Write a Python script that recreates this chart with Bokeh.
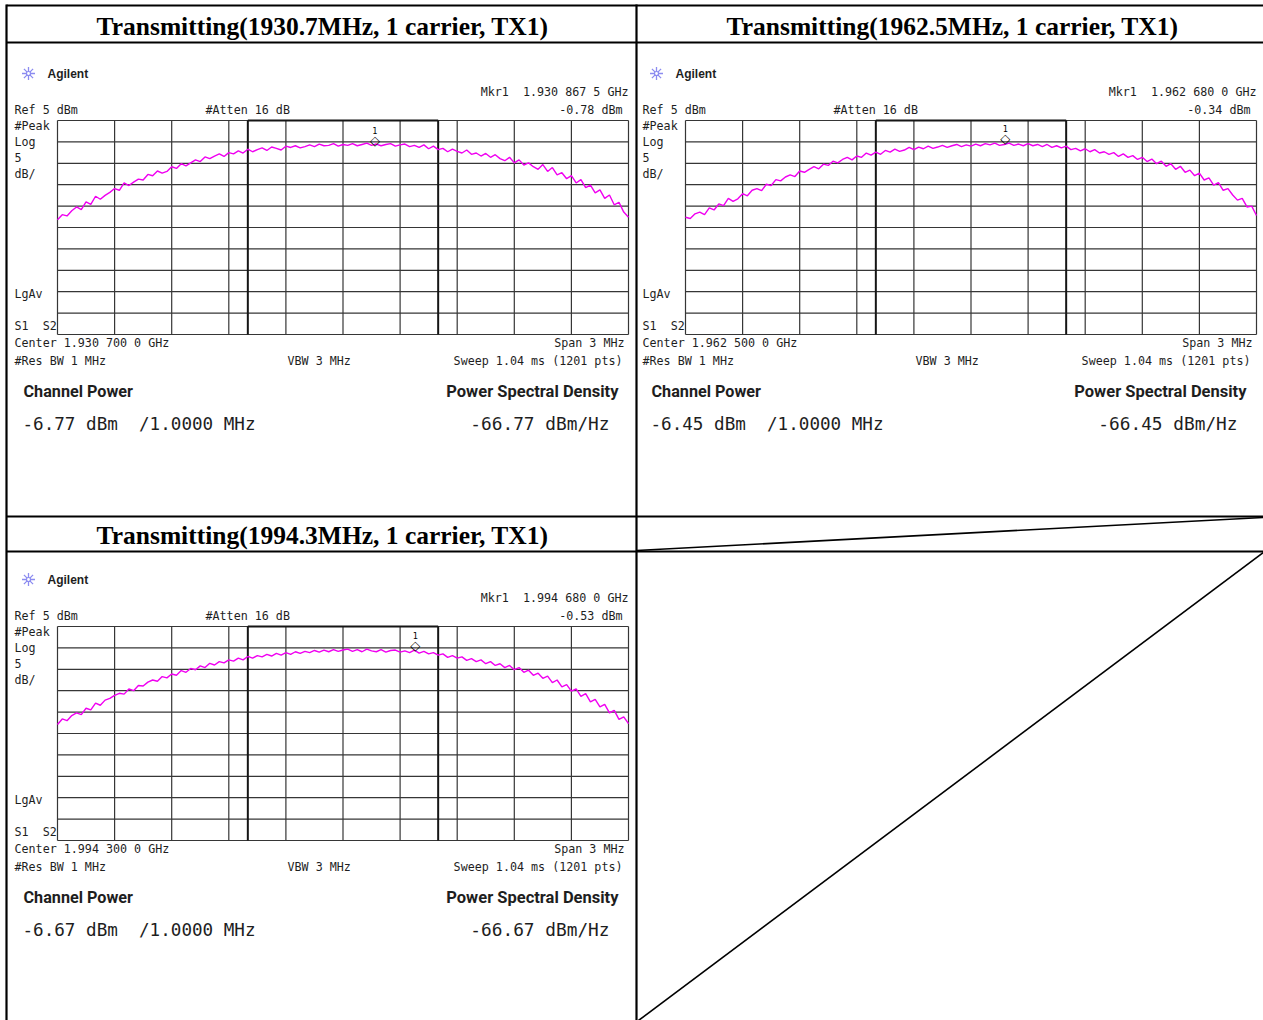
from bokeh.plotting import figure
from bokeh.models import Range1d
from bokeh.embed import file_html
from bokeh.resources import INLINE
from bokeh.core.properties import value

# ---------------------------------------------------------------- data
N_POINTS = 121
FREQ_OFFSET_MHZ = [round(-1.5 + 0.025 * i, 3) for i in range(N_POINTS)]
FREQ_TICKS_MHZ = [-1.5, -1.2, -0.9, -0.6, -0.3, 0.0, 0.3, 0.6, 0.9, 1.2, 1.5]
DB_TICKS = [5, 0, -5, -10, -15, -20, -25, -30, -35, -40, -45]
CHANNEL_EDGES_MHZ = [-0.5, 0.5]

TITLES = [
    "Transmitting(1930.7MHz, 1 carrier, TX1)",
    "Transmitting(1962.5MHz, 1 carrier, TX1)",
    "Transmitting(1994.3MHz, 1 carrier, TX1)",
]
MARKER_LABELS = ["Mkr1  1.930 867 5 GHz", "Mkr1  1.962 680 0 GHz", "Mkr1  1.994 680 0 GHz"]
MARKER_OFFSET_MHZ = [0.1675, 0.18, 0.38]
MARKER_DBM = [-0.78, -0.34, -0.53]
CENTER_LABELS = ["Center 1.930 700 0 GHz", "Center 1.962 500 0 GHz", "Center 1.994 300 0 GHz"]
CHANNEL_POWER = ["-6.77 dBm  /1.0000 MHz", "-6.45 dBm  /1.0000 MHz", "-6.67 dBm  /1.0000 MHz"]
PSD = ["-66.77 dBm/Hz", "-66.45 dBm/Hz", "-66.67 dBm/Hz"]

TRACE_1 = [
    -18.2, -17.0, -17.3, -16.1, -15.2, -15.8, -14.0,
    -14.6, -12.7, -13.4, -12.5, -11.8, -10.9,
    -11.3, -9.6, -10.2, -9.4, -8.7, -8.9,
    -7.6, -7.9, -6.8, -7.3, -6.9, -5.8,
    -6.2, -5.1, -5.6, -4.9, -4.2, -4.6,
    -3.5, -3.9, -3.3, -2.8, -3.4, -2.5,
    -2.8, -2.1, -2.6, -1.7, -2.3, -1.8,
    -1.4, -2.0, -1.2, -1.5, -1.9, -1.0,
    -1.3, -0.9, -1.4, -1.1, -0.7, -1.1,
    -0.5, -0.9, -0.8, -0.4, -1.0, -0.6,
    -0.8, -0.4, -0.9, -0.6, -0.3, -0.8,
    -0.5, -0.9, -0.6, -0.4, -1.0, -0.7,
    -0.5, -1.1, -0.8, -1.3, -0.7, -1.6,
    -1.0, -1.8, -1.5, -2.3, -1.7, -2.2,
    -2.6, -1.9, -2.9, -2.6, -3.3, -2.7,
    -3.6, -3.0, -3.9, -4.4, -3.6, -4.9,
    -4.2, -5.4, -4.9, -5.8, -6.4, -5.3,
    -6.9, -6.0, -7.7, -7.2, -8.6, -7.9,
    -9.6, -8.8, -10.7, -10.1, -11.9, -11.2,
    -13.2, -12.4, -14.7, -14.1, -16.4, -17.6,
]
TRACE_2 = [
    -17.6, -17.9, -16.8, -16.4, -17.0, -15.4, -15.9,
    -14.5, -14.9, -13.2, -13.9, -13.3, -12.1,
    -12.6, -11.3, -10.9, -11.4, -9.9, -10.2,
    -8.8, -9.1, -8.2, -7.7, -8.1, -6.8,
    -7.1, -6.4, -5.8, -6.3, -5.2, -5.5,
    -4.5, -4.9, -4.1, -3.6, -4.2, -3.3,
    -3.6, -2.6, -3.1, -2.4, -2.9, -2.0,
    -2.4, -1.7, -2.2, -1.9, -1.3, -1.8,
    -1.2, -1.6, -1.0, -1.5, -1.2, -0.8,
    -1.3, -0.9, -0.6, -1.1, -0.7, -1.0,
    -0.5, -0.9, -0.4, -0.7, -0.3, -0.8,
    -0.6, -0.3, -0.8, -0.5, -0.9, -0.4,
    -0.9, -0.6, -1.1, -0.6, -1.3, -0.9,
    -1.4, -1.0, -1.8, -1.5, -2.1, -1.6,
    -2.3, -1.8, -2.6, -2.3, -2.9, -2.5,
    -3.4, -2.8, -3.6, -3.2, -4.1, -3.6,
    -4.6, -4.0, -5.1, -4.5, -5.7, -5.1,
    -6.4, -5.7, -7.1, -6.6, -7.9, -7.3,
    -8.9, -8.4, -10.1, -9.5, -11.3, -10.9,
    -12.4, -13.6, -13.2, -15.2, -15.0, -17.2,
]
TRACE_3 = [
    -17.9, -16.6, -17.0, -15.8, -15.2, -15.6, -14.1,
    -14.5, -12.9, -13.4, -12.2, -11.8, -11.1,
    -10.6, -10.8, -9.6, -10.0, -8.8, -8.9,
    -8.0, -7.5, -7.8, -6.7, -7.0, -6.1,
    -6.4, -5.3, -5.7, -4.8, -5.1, -4.2,
    -4.6, -3.6, -4.0, -3.2, -3.5, -2.8,
    -3.1, -2.4, -2.8, -2.0, -2.4, -1.8,
    -2.1, -1.5, -1.9, -1.3, -1.7, -1.1,
    -1.5, -0.9, -1.3, -0.8, -1.1, -0.6,
    -1.0, -0.5, -0.9, -0.4, -0.8, -0.5,
    -0.3, -0.8, -0.4, -0.9, -0.3, -0.7,
    -0.9, -0.4, -1.0, -0.6, -0.5, -1.0,
    -0.7, -1.1, -0.5, -1.2, -0.8, -1.4,
    -1.1, -1.7, -1.4, -2.2, -1.8, -2.4,
    -2.1, -2.9, -2.5, -3.2, -2.8, -3.7,
    -3.2, -4.1, -3.7, -4.6, -4.1, -5.1,
    -4.6, -5.7, -5.2, -6.4, -5.9, -7.1,
    -6.6, -8.1, -7.5, -9.1, -8.6, -10.1,
    -9.6, -11.3, -10.7, -12.6, -12.0, -13.8,
    -13.2, -15.2, -14.6, -16.7, -16.1, -17.7,
]
TRACES = [TRACE_1, TRACE_2, TRACE_3]

# ---------------------------------------------------------------- layout
W, H = 1263, 1020
PANEL_ORIGINS = [(0, 0), (628, 0), (0, 506)]
GX0, GX1, GY0, GY1 = 57, 628, 120, 334          # graticule box inside a panel

INK = "#1e1e1e"
GRID = "#363636"
TRACE_COLOR = "#f000f0"
MONO = value("DejaVu Sans Mono")
SANS_B = value("Roboto")
SERIF = value("Liberation Serif")


def keep_spaces(items):
    # SVG collapses runs of spaces: keep the analyzer's double spacing
    return [s.replace("  ", " \u00a0") for s in items]


p = figure(width=W, height=H, x_range=Range1d(0, W), y_range=Range1d(H, 0),
           output_backend="svg", toolbar_location=None, min_border=0,
           x_axis_location=None, y_axis_location=None, outline_line_color=None,
           background_fill_color="white", border_fill_color="white")
p.grid.visible = False

# ---------------------------------------------------------------- table frame
p.segment(x0=[6, 6, 6, 6], y0=[5, 42, 516, 551], x1=[W, W, W, W], y1=[5, 42, 516, 551],
          line_color="black", line_width=2.2)
p.segment(x0=[6, 636], y0=[4, 4], x1=[6, 636], y1=[H, H], line_color="black", line_width=2.2)
# empty-cell diagonals
p.segment(x0=[636, 638], y0=[550, H], x1=[W, W], y1=[517, 552], line_color="black", line_width=1.6)

# titles
p.text(x=[322, 952, 322], y=[26, 26, 535], text=TITLES, text_font=SERIF, text_font_style="bold",
       text_font_size="25.5px", text_align="center", text_baseline="middle", text_color="black")

# ---------------------------------------------------------------- panels
for k, (dx, dy) in enumerate(PANEL_ORIGINS):
    name = f"p{k}"
    x0, x1 = GX0 + dx, GX1 + dx
    y0, y1 = GY0 + dy, GY1 + dy
    fpp = (FREQ_TICKS_MHZ[-1] - FREQ_TICKS_MHZ[0]) / (x1 - x0)
    dpp = (DB_TICKS[0] - DB_TICKS[-1]) / (y1 - y0)
    p.extra_x_ranges[name] = Range1d(FREQ_TICKS_MHZ[0] - x0 * fpp, FREQ_TICKS_MHZ[0] + (W - x0) * fpp)
    p.extra_y_ranges[name] = Range1d(DB_TICKS[0] - (H - y0) * dpp, DB_TICKS[0] + y0 * dpp)
    kw = dict(x_range_name=name, y_range_name=name)

    fmin, fmax = FREQ_TICKS_MHZ[0], FREQ_TICKS_MHZ[-1]
    dtop, dbot = DB_TICKS[0], DB_TICKS[-1]
    # graticule
    p.segment(x0=FREQ_TICKS_MHZ, x1=FREQ_TICKS_MHZ, y0=[dtop] * len(FREQ_TICKS_MHZ),
              y1=[dbot] * len(FREQ_TICKS_MHZ), line_color=GRID, line_width=1.2, **kw)
    p.segment(x0=[fmin] * len(DB_TICKS), x1=[fmax] * len(DB_TICKS), y0=DB_TICKS, y1=DB_TICKS,
              line_color=GRID, line_width=1.2, **kw)
    # channel-power integration box
    p.segment(x0=CHANNEL_EDGES_MHZ, x1=CHANNEL_EDGES_MHZ, y0=[dtop, dtop], y1=[dbot, dbot],
              line_color="#151515", line_width=2, **kw)
    p.segment(x0=[CHANNEL_EDGES_MHZ[0]], x1=[CHANNEL_EDGES_MHZ[1]], y0=[dtop], y1=[dtop],
              line_color="#151515", line_width=2.2, **kw)

    # trace
    p.line(FREQ_OFFSET_MHZ, TRACES[k], line_color=TRACE_COLOR, line_width=1.4, **kw)

    # marker
    p.text(x=[MARKER_OFFSET_MHZ[k]], y=[MARKER_DBM[k]], text=["\u25c7"], text_font=value("DejaVu Sans"),
           text_font_size="13px", text_font_style="bold", text_align="center", text_baseline="middle",
           text_color="black", y_offset=-5, **kw)
    p.text(x=[MARKER_OFFSET_MHZ[k]], y=[MARKER_DBM[k]], text=["1"], text_font=MONO,
           text_font_size="8.5px", text_align="center", text_baseline="middle",
           text_color="black", y_offset=-15, **kw)

    # Agilent logo + name
    p.scatter(x=[28 + dx], y=[73 + dy], marker="asterisk", size=13, line_color="#8c8cf0", line_width=1.3)
    p.scatter(x=[28 + dx], y=[73 + dy], marker="circle", size=4, fill_color="white",
              line_color="#8c8cf0", line_width=1.2)
    p.text(x=[47 + dx], y=[73 + dy], text=["Agilent"], text_font=value("Liberation Sans"),
           text_font_style="bold", text_font_size="12px", text_baseline="middle", text_color=INK)

    # small analyzer annotations (left aligned)
    left_txt = ["Ref 5 dBm", "#Atten 16 dB", "#Peak", "Log", "5", "dB/", "LgAv", "S1  S2",
                CENTER_LABELS[k], "#Res BW 1 MHz", "VBW 3 MHz"]
    left_x = [14, 205, 14, 14, 14, 14, 14, 14, 14, 14, 287]
    left_y = [109, 109, 125, 141, 157, 173, 293, 325, 342, 360, 360]
    p.text(x=[v + dx for v in left_x], y=[v + dy for v in left_y], text=keep_spaces(left_txt),
           text_font=MONO, text_font_size="11.7px", text_align="left", text_baseline="middle",
           text_color=INK)
    right_txt = [MARKER_LABELS[k], f"{MARKER_DBM[k]:.2f} dBm", "Span 3 MHz", "Sweep 1.04 ms (1201 pts)"]
    right_x = [628, 622, 624, 622]
    right_y = [91, 109, 342, 360]
    p.text(x=[v + dx for v in right_x], y=[v + dy for v in right_y], text=keep_spaces(right_txt),
           text_font=MONO, text_font_size="11.7px", text_align="right", text_baseline="middle",
           text_color=INK)

    # measurement results
    p.text(x=[23 + dx], y=[391 + dy], text=["Channel Power"], text_font=SANS_B, text_font_style="bold",
           text_font_size="16.2px", text_align="left", text_baseline="middle", text_color=INK)
    p.text(x=[618 + dx], y=[391 + dy], text=["Power Spectral Density"], text_font=SANS_B,
           text_font_style="bold", text_font_size="16.5px", text_align="right", text_baseline="middle",
           text_color=INK)
    p.text(x=[22 + dx], y=[423 + dy], text=keep_spaces([CHANNEL_POWER[k]]), text_font=MONO,
           text_font_size="17.6px", text_align="left", text_baseline="middle", text_color=INK)
    p.text(x=[609 + dx], y=[423 + dy], text=[PSD[k]], text_font=MONO, text_font_size="17.8px",
           text_align="right", text_baseline="middle", text_color=INK)

open("out.html", "w").write(file_html(p, INLINE))
